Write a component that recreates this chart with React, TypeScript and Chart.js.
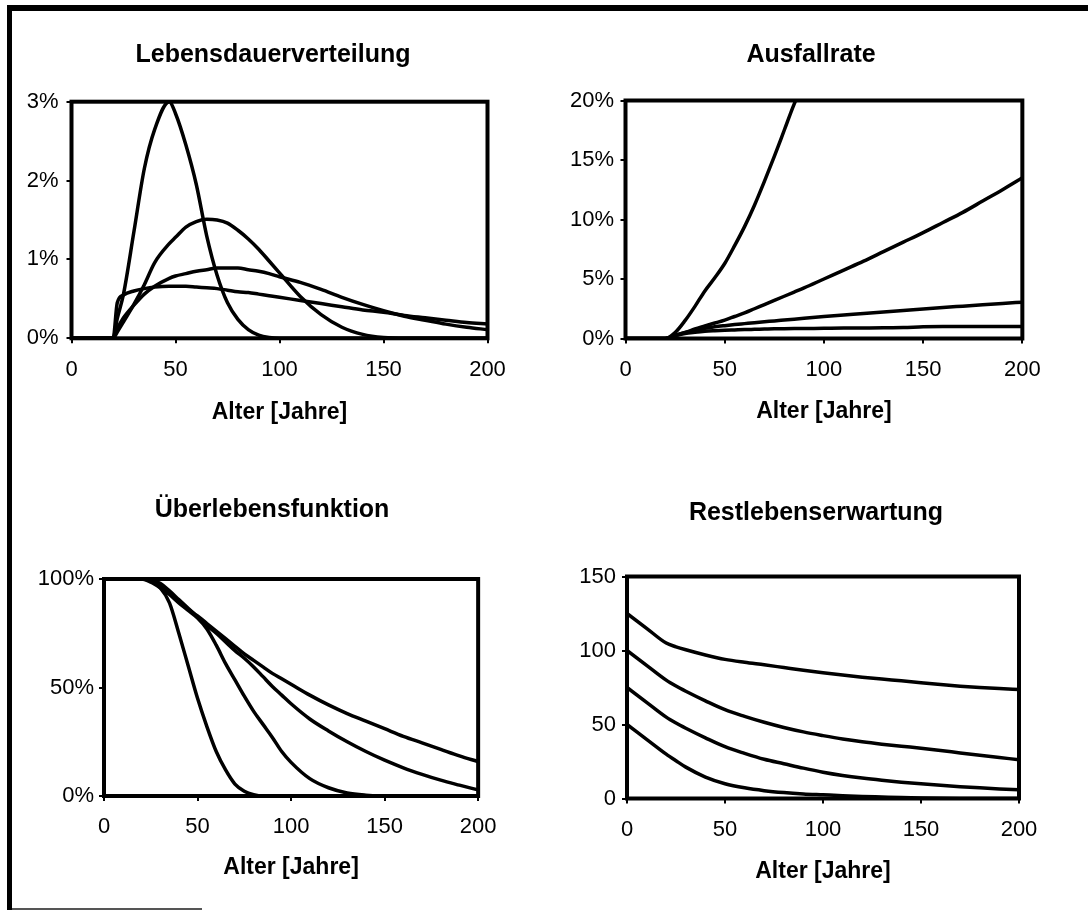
import React, { useEffect, useRef } from 'react';
import { Chart, registerables } from 'chart.js';

Chart.register(...registerables);

const FONT = "'Liberation Sans', Arial, Helvetica, sans-serif";

// Lebensdauerverteilung: density in % per year
const densityAges = [0, 20, 22, 25, 30, 35, 40, 47, 50, 55, 60, 65, 70, 75, 80, 85, 90, 95, 100, 110, 120, 130, 140, 150, 160, 170, 180, 190, 200];
const densityA = [0, 0, 0.25, 0.56, 1.35, 2.15, 2.65, 3.0, 2.85, 2.45, 1.95, 1.3, 0.8, 0.45, 0.24, 0.11, 0.04, 0.01, 0, 0, 0, 0, 0, 0, 0, 0, 0, 0, 0];
const densityB = [0, 0, 0.08, 0.21, 0.43, 0.68, 0.96, 1.2, 1.28, 1.41, 1.48, 1.51, 1.5, 1.46, 1.37, 1.26, 1.13, 0.98, 0.83, 0.53, 0.3, 0.14, 0.05, 0.01, 0, 0, 0, 0, 0];
const densityC = [0, 0, 0.12, 0.26, 0.42, 0.56, 0.66, 0.76, 0.79, 0.82, 0.85, 0.87, 0.89, 0.89, 0.89, 0.87, 0.85, 0.82, 0.78, 0.71, 0.62, 0.52, 0.43, 0.35, 0.28, 0.23, 0.18, 0.14, 0.11];
const densityD = [0, 0, 0.45, 0.55, 0.6, 0.63, 0.65, 0.66, 0.66, 0.66, 0.65, 0.64, 0.63, 0.61, 0.59, 0.58, 0.56, 0.54, 0.52, 0.48, 0.44, 0.4, 0.36, 0.33, 0.29, 0.26, 0.23, 0.2, 0.18];

// Ausfallrate: hazard rate in %
const hazardAges = [0, 20, 25, 30, 35, 40, 45, 50, 55, 60, 65, 70, 75, 80, 85, 90, 100, 110, 120, 130, 140, 150, 160, 170, 180, 190, 200];
const hazardA = [0, 0, 0.5, 1.5, 2.7, 4.0, 5.1, 6.3, 7.8, 9.4, 11.2, 13.2, 15.3, 17.5, 19.7, 21.5, null, null, null, null, null, null, null, null, null, null, null];
const hazardB = [0, 0, 0.25, 0.5, 0.8, 1.05, 1.3, 1.55, 1.85, 2.15, 2.5, 2.85, 3.2, 3.55, 3.9, 4.25, 5.0, 5.75, 6.5, 7.3, 8.1, 8.9, 9.75, 10.6, 11.55, 12.5, 13.5];
const hazardC = [0, 0, 0.25, 0.5, 0.7, 0.85, 0.98, 1.08, 1.17, 1.25, 1.33, 1.4, 1.48, 1.55, 1.62, 1.7, 1.84, 1.97, 2.1, 2.23, 2.35, 2.47, 2.6, 2.72, 2.84, 2.95, 3.05];
const hazardD = [0, 0, 0.25, 0.42, 0.52, 0.6, 0.65, 0.69, 0.72, 0.75, 0.77, 0.79, 0.81, 0.82, 0.83, 0.84, 0.86, 0.88, 0.89, 0.9, 0.92, 0.98, 1.0, 1.0, 1.0, 1.0, 1.0];

// Überlebensfunktion: survival in %
const survivalAges = [0, 20, 25, 30, 35, 40, 45, 50, 55, 60, 65, 70, 75, 80, 85, 90, 95, 100, 110, 120, 130, 140, 150, 160, 170, 180, 190, 200];
const survivalA = [100, 100, 99, 96, 89, 75, 60, 45, 32, 20.5, 12, 5.5, 2.2, 0.6, 0, 0, 0, 0, 0, 0, 0, 0, 0, 0, 0, 0, 0, 0];
const survivalB = [100, 100, 99.3, 97.5, 93, 89, 85.5, 82, 77, 69.5, 61, 53.5, 46, 39, 33, 27, 20.5, 15.5, 8, 3.8, 1.4, 0.4, 0, 0, 0, 0, 0, 0];
const survivalC = [100, 100, 99.5, 98, 94.5, 90.5, 86.5, 82.5, 78.5, 75, 71, 67, 63.5, 59.5, 55, 50.5, 46.5, 42.5, 35.5, 30, 25, 20.5, 16.5, 13, 10, 7.3, 5, 2.8];
const survivalD = [100, 100, 98.5, 96, 93, 89.5, 86, 83, 79.5, 76, 72.5, 69, 65.5, 62.5, 59.5, 56.5, 54, 51.5, 46.5, 42, 38, 34.5, 31, 27.5, 24.5, 21.5, 18.5, 15.8];

// Restlebenserwartung: remaining life expectancy in years
const residualAges = [0, 10, 20, 25, 30, 40, 50, 60, 70, 80, 90, 100, 110, 120, 130, 140, 150, 160, 170, 180, 190, 200];
const residualA = [125, 115, 105, 102.5, 100.5, 97, 94, 92, 90.3, 88.5, 86.7, 85, 83.5, 82, 80.7, 79.5, 78.2, 77, 75.9, 75, 74.3, 73.7];
const residualB = [100, 90, 80, 76, 72.5, 66, 60, 55.5, 51.5, 48, 45, 42.5, 40.2, 38.3, 36.7, 35.3, 34, 32.5, 30.8, 29.2, 27.7, 26.2];
const residualC = [75, 65, 55, 51, 47.5, 41, 35, 30.5, 26.5, 23.5, 20.5, 17.8, 15.6, 13.8, 12.3, 11, 9.9, 8.9, 8, 7.2, 6.5, 5.9];
const residualD = [50, 40, 30, 25.5, 21.2, 14.5, 10, 7.2, 5.3, 4.0, 3.1, 2.5, 1.9, 1.4, 1.0, 0.6, 0.3, 0.1, 0, 0, 0, 0];

const ageTicks = { min: 0, max: 200, step: 50 };
const xAxisLabel = 'Alter [Jahre]';

type PanelSpec = {
  title: string;
  ages: number[];
  series: (number | null)[][];
  yMax: number;
  yStep: number;
  ySuffix: string;
  box: { left: number; top: number; width: number; height: number };
  yAxisWidth: number;
  rightGap: number;
  yTickPad: number;
  titlePad: { top: number; bottom: number };
  xAxisHeight: number;
  xTickPad: number;
  xTitlePadBottom: number;
};

const panels: PanelSpec[] = [
  {
    title: 'Lebensdauerverteilung',
    ages: densityAges,
    series: [densityA, densityB, densityC, densityD],
    yMax: 3, yStep: 1, ySuffix: '%',
    box: { left: 20, top: 10, width: 506, height: 440 },
    yAxisWidth: 51.5, rightGap: 38.5, yTickPad: 8,
    titlePad: { top: 30, bottom: 31.7 },
    xAxisHeight: 111.7, xTickPad: 13.5, xTitlePadBottom: 23.2,
  },
  {
    title: 'Ausfallrate',
    ages: hazardAges,
    series: [hazardA, hazardB, hazardC, hazardD],
    yMax: 20, yStep: 5, ySuffix: '%',
    box: { left: 568, top: 10, width: 486, height: 440 },
    yAxisWidth: 57.5, rightGap: 27, yTickPad: 6.5,
    titlePad: { top: 30, bottom: 30.5 },
    xAxisHeight: 111.5, xTickPad: 13.3, xTitlePadBottom: 24.2,
  },
  {
    title: 'Überlebensfunktion',
    ages: survivalAges,
    series: [survivalA, survivalB, survivalC, survivalD],
    yMax: 100, yStep: 50, ySuffix: '%',
    box: { left: 35, top: 460, width: 474, height: 440 },
    yAxisWidth: 69, rightGap: 22, yTickPad: 5,
    titlePad: { top: 35, bottom: 54 },
    xAxisHeight: 104, xTickPad: 12.5, xTitlePadBottom: 18.2,
  },
  {
    title: 'Restlebenserwartung',
    ages: residualAges,
    series: [residualA, residualB, residualC, residualD],
    yMax: 150, yStep: 50, ySuffix: '',
    box: { left: 575, top: 460, width: 482, height: 440 },
    yAxisWidth: 52, rightGap: 38, yTickPad: 6,
    titlePad: { top: 38, bottom: 48.5 },
    xAxisHeight: 101.5, xTickPad: 13.3, xTitlePadBottom: 14.5,
  },
];

// Heavy rectangle around the plotting area
const plotFrame = {
  id: 'plotFrame',
  afterDatasetsDraw(chart: any) {
    const { ctx, chartArea: a } = chart;
    ctx.save();
    ctx.strokeStyle = '#000';
    ctx.lineWidth = 4;
    ctx.strokeRect(a.left, a.top, a.right - a.left, a.bottom - a.top);
    ctx.restore();
  },
};

const tickMarks = {
  display: true,
  drawOnChartArea: false,
  drawTicks: true,
  tickLength: 5,
  color: '#000',
  lineWidth: 2,
};

function Panel({ spec }: { spec: PanelSpec }) {
  const ref = useRef<HTMLCanvasElement>(null);

  useEffect(() => {
    if (!ref.current) return;
    const datasets = spec.series.map((values) => ({
      data: spec.ages.map((age, i) => ({ x: age, y: values[i] })),
      borderColor: '#000',
      borderWidth: 3.5,
      pointRadius: 0,
      fill: false,
      cubicInterpolationMode: 'monotone' as const,
      spanGaps: false,
      yAxisID: 'y',
    }));

    const chart = new Chart(ref.current, {
      type: 'line',
      data: { datasets },
      plugins: [plotFrame],
      options: {
        animation: false,
        responsive: false,
        devicePixelRatio: 1,
        layout: { padding: 0 },
        plugins: {
          legend: { display: false },
          tooltip: { enabled: false },
          title: {
            display: true,
            text: spec.title,
            color: '#000',
            font: { family: FONT, size: 25, weight: 'bold', lineHeight: 1.2 },
            padding: { top: spec.titlePad.top, bottom: spec.titlePad.bottom },
          },
        },
        scales: {
          x: {
            type: 'linear',
            min: ageTicks.min,
            max: ageTicks.max,
            ticks: {
              stepSize: ageTicks.step,
              color: '#000',
              font: { family: FONT, size: 22, lineHeight: 1.2 },
              padding: spec.xTickPad,
              maxRotation: 0,
              autoSkip: false,
            },
            grid: tickMarks,
            border: { display: false },
            title: {
              display: true,
              text: xAxisLabel,
              color: '#000',
              font: { family: FONT, size: 23, weight: 'bold', lineHeight: 1.2 },
              padding: { top: 0, bottom: spec.xTitlePadBottom },
            },
            afterFit: (scale: any) => {
              scale.height = spec.xAxisHeight;
            },
          },
          y: {
            type: 'linear',
            position: 'left',
            min: 0,
            max: spec.yMax,
            ticks: {
              stepSize: spec.yStep,
              color: '#000',
              font: { family: FONT, size: 22, lineHeight: 1.2 },
              padding: spec.yTickPad,
              autoSkip: false,
              callback: (v: any) => `${v}${spec.ySuffix}`,
            },
            grid: tickMarks,
            border: { display: false },
            afterFit: (scale: any) => {
              scale.width = spec.yAxisWidth;
            },
          },
          // empty margin on the right of the plot
          gap: {
            type: 'linear',
            position: 'right',
            display: true,
            ticks: { display: false },
            grid: { display: false, drawTicks: false },
            border: { display: false },
            afterFit: (scale: any) => {
              scale.width = spec.rightGap;
            },
          },
        },
      },
    } as any);

    return () => chart.destroy();
  }, [spec]);

  const { left, top, width, height } = spec.box;
  return (
    <canvas
      ref={ref}
      width={width}
      height={height}
      style={{ position: 'absolute', left, top, width, height }}
    />
  );
}

export default function App() {
  return (
    <div style={{ position: 'absolute', left: 0, top: 0, width: 1088, height: 921, background: '#fff', overflow: 'hidden' }}>
      <div
        style={{
          position: 'absolute',
          left: 7,
          top: 5,
          width: 1081,
          height: 905,
          borderTop: '6px solid #000',
          borderLeft: '5px solid #000',
          boxSizing: 'border-box',
        }}
      />
      <div style={{ position: 'absolute', left: 12, top: 908, width: 190, height: 2, background: '#555' }} />
      {panels.map((p) => (
        <Panel key={p.title} spec={p} />
      ))}
    </div>
  );
}
